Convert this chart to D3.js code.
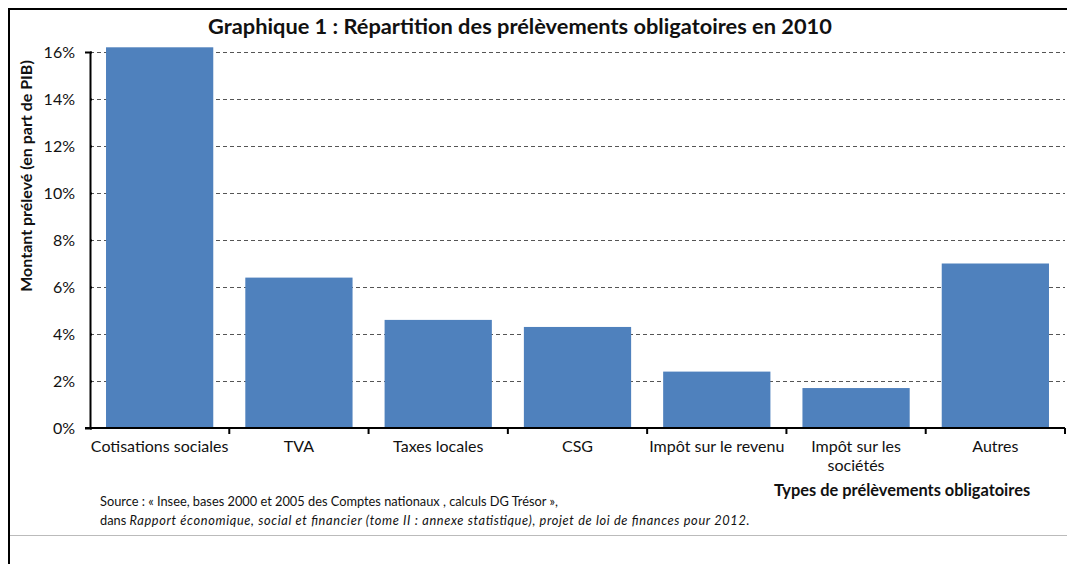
<!DOCTYPE html>
<html lang="fr">
<head>
<meta charset="utf-8">
<title>Prélèvements obligatoires 2010</title>
<script src="https://cdn.jsdelivr.net/npm/d3@7"></script>
<style>
  body { margin: 0; background: #fff; }
  text { font-family: Lato, "Open Sans", sans-serif; fill: #111; }
</style>
</head>
<body>
<div id="chart"></div>
<script>
// data
var categories = ["Cotisations sociales", "TVA", "Taxes locales", "CSG", "Impôt sur le revenu", "Impôt sur les sociétés", "Autres"];
var values = [16.2, 6.4, 4.6, 4.3, 2.4, 1.7, 7.0];
var yTicks = [0, 2, 4, 6, 8, 10, 12, 14, 16];

var W = 1067, H = 564;
var mLeft = 90, mRight = 1065, mTop = 52, mBottom = 428;

var svg = d3.select("#chart").append("svg")
    .attr("width", W)
    .attr("height", H);

// frame
svg.append("line").attr("x1", 8).attr("x2", W).attr("y1", 9).attr("y2", 9)
    .attr("stroke", "#000").attr("stroke-width", 2);
svg.append("line").attr("x1", 9).attr("x2", 9).attr("y1", 8).attr("y2", H)
    .attr("stroke", "#000").attr("stroke-width", 2);
svg.append("line").attr("x1", 10).attr("x2", W).attr("y1", 535.5).attr("y2", 535.5)
    .attr("stroke", "#bbb").attr("stroke-width", 1);

var x = d3.scaleBand().domain(categories).range([mLeft, mRight]).paddingInner(0.23).paddingOuter(0.115);
var xTick = d3.scaleBand().domain(categories).range([mLeft, mRight]);
var y = d3.scaleLinear().domain([0, 16]).range([mBottom, mTop]);

// grid
svg.append("g").selectAll("line")
    .data(yTicks.filter(function(d){ return d > 0; }))
    .enter().append("line")
    .attr("x1", mLeft).attr("x2", mRight)
    .attr("y1", function(d){ return Math.round(y(d)) + 0.5; })
    .attr("y2", function(d){ return Math.round(y(d)) + 0.5; })
    .attr("stroke", "#555")
    .attr("stroke-dasharray", "4,3");

// bars
svg.append("g").selectAll("rect")
    .data(values)
    .enter().append("rect")
    .attr("x", function(d, i){ return x(categories[i]); })
    .attr("width", x.bandwidth())
    .attr("y", function(d){ return y(d); })
    .attr("height", function(d){ return y(0) - y(d); })
    .attr("fill", "#4f81bd");

// y axis
var yAxis = svg.append("g")
    .attr("transform", "translate(" + mLeft + ",0)")
    .call(d3.axisLeft(y).tickValues(yTicks).tickSize(5).tickPadding(10)
        .tickFormat(function(d){ return d + "%"; }));
yAxis.select(".domain").attr("stroke", "#000").attr("stroke-width", 2);
yAxis.selectAll(".tick line").attr("stroke", "#000").attr("stroke-width", 2).attr("x2", 2);
yAxis.selectAll(".tick text").attr("font-size", 16).attr("font-family", "Lato, sans-serif").attr("fill", "#222");

// x axis
var xg = svg.append("g").attr("transform", "translate(0," + mBottom + ")");
xg.append("line").attr("x1", mLeft - 5).attr("x2", mRight).attr("y1", 0).attr("y2", 0)
    .attr("stroke", "#000").attr("stroke-width", 2);
xg.selectAll(".tk")
    .data(categories)
    .enter().append("line")
    .attr("x1", function(d){ return xTick(d) + xTick.bandwidth(); })
    .attr("x2", function(d){ return xTick(d) + xTick.bandwidth(); })
    .attr("y1", 0).attr("y2", 6)
    .attr("stroke", "#000").attr("stroke-width", 2);

// category labels, wrap the long one
var labels = xg.selectAll(".lab")
    .data(categories)
    .enter().append("text")
    .attr("text-anchor", "middle")
    .attr("font-size", 16)
    .attr("fill", "#222");
labels.each(function(d){
    var t = d3.select(this);
    var cx = xTick(d) + xTick.bandwidth() / 2;
    var lines = d === "Impôt sur les sociétés" ? ["Impôt sur les", "sociétés"] : [d];
    lines.forEach(function(l, k){
        t.append("tspan").attr("x", cx).attr("y", 24 + k * 19).text(l);
    });
});

// title
svg.append("text")
    .attr("x", 520).attr("y", 34)
    .attr("text-anchor", "middle")
    .attr("font-size", 21.8).attr("font-weight", "bold")
    .text("Graphique 1 : Répartition des prélèvements obligatoires en 2010");

// axis titles
svg.append("text")
    .attr("transform", "translate(32,176) rotate(-90)")
    .attr("text-anchor", "middle")
    .attr("font-size", 16).attr("font-weight", "bold")
    .text("Montant prélevé (en part de PIB)");
svg.append("text")
    .attr("x", 902).attr("y", 496)
    .attr("text-anchor", "middle")
    .attr("font-size", 16.4).attr("font-weight", "bold")
    .text("Types de prélèvements obligatoires");

// source
svg.append("text")
    .attr("x", 100).attr("y", 506)
    .attr("font-size", 12.8).attr("fill", "#222")
    .text("Source : « Insee, bases 2000 et 2005 des Comptes nationaux , calculs DG Trésor »,");
var src2 = svg.append("text")
    .attr("x", 100).attr("y", 525)
    .attr("font-size", 12.8).attr("fill", "#222");
src2.append("tspan").text("dans ");
src2.append("tspan").attr("font-style", "italic")
    .attr("textLength", 620).attr("lengthAdjust", "spacing")
    .text("Rapport économique, social et financier (tome II : annexe statistique), projet de loi de finances pour 2012.");
</script>
</body>
</html>
